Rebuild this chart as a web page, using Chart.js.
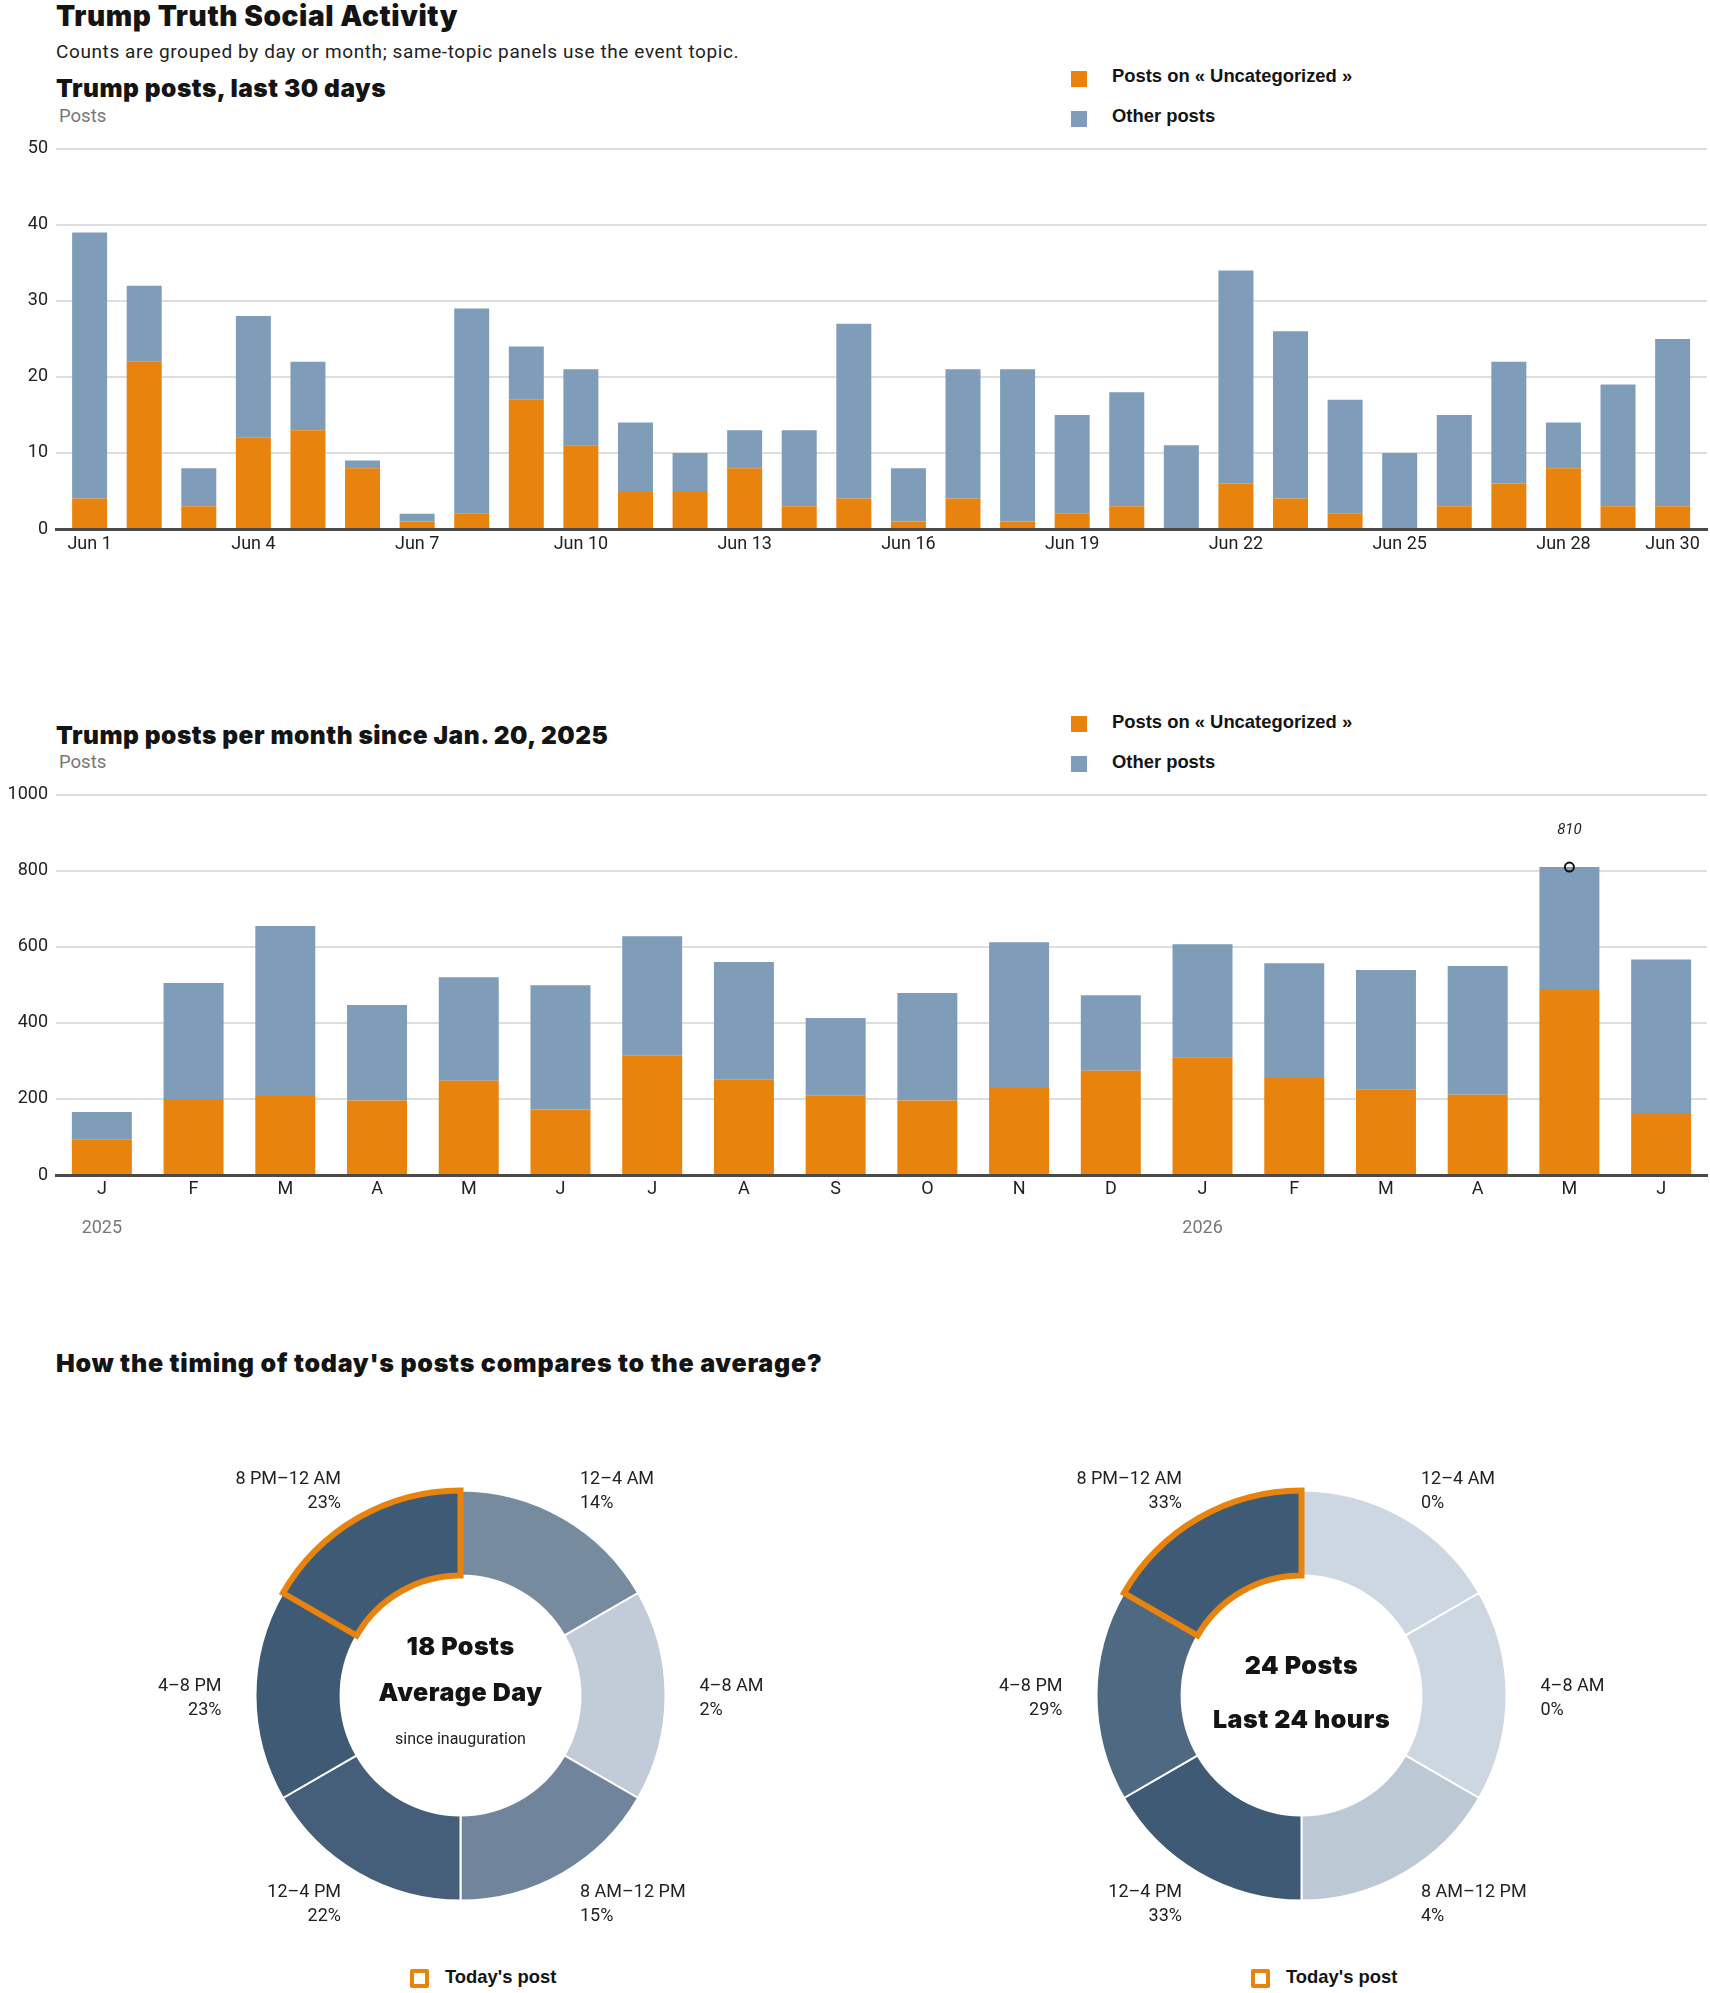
<!DOCTYPE html>
<html><head><meta charset="utf-8">
<script src="https://cdn.jsdelivr.net/npm/chart.js@4.4.1/dist/chart.umd.min.js"></script>
<style>
html,body{margin:0;padding:0;background:#fff;}
body{width:1710px;height:1993px;overflow:hidden;position:relative;}
.abs{position:absolute;white-space:nowrap;line-height:1;}
.heavy{font-family:Inter,"DejaVu Sans",sans-serif;font-weight:900;color:#141414;}
.reg{font-family:Roboto,"Liberation Sans",sans-serif;color:#222;}
.leg{font-family:"Liberation Sans",Arial,sans-serif;font-weight:bold;font-size:18.4px;color:#141414;}
.sw{position:absolute;width:16px;height:16px;}
.today{position:absolute;width:19px;height:19px;box-sizing:border-box;border:4px solid #E8830E;border-radius:2px;}
canvas{position:absolute;}
.ctr{position:absolute;width:400px;text-align:center;white-space:nowrap;line-height:1;}
</style></head><body>

<div class="abs heavy" style="left:56px;top:2.3px;font-size:28px;letter-spacing:0.6px;">Trump Truth Social Activity</div>
<div class="abs reg" style="left:56px;top:42px;font-size:19px;letter-spacing:0.6px;">Counts are grouped by day or month; same-topic panels use the event topic.</div>

<div class="abs heavy" style="left:56px;top:75.6px;font-size:24.5px;letter-spacing:0.5px;">Trump posts, last 30 days</div>
<div class="abs reg" style="left:59px;top:107.4px;font-size:18.5px;color:#777;">Posts</div>
<div class="sw" style="left:1071px;top:71px;background:#E8830E;"></div>
<div class="abs leg" style="left:1112px;top:67.4px;">Posts on « Uncategorized »</div>
<div class="sw" style="left:1071px;top:111px;background:#7F9DB9;"></div>
<div class="abs leg" style="left:1112px;top:107.4px;">Other posts</div>
<canvas id="c1" width="1710" height="440" style="left:0;top:130px;"></canvas>

<div class="abs heavy" style="left:56px;top:722.7px;font-size:24.5px;letter-spacing:0.5px;">Trump posts per month since Jan. 20, 2025</div>
<div class="abs reg" style="left:59px;top:753.4px;font-size:18.5px;color:#777;">Posts</div>
<div class="sw" style="left:1071px;top:716px;background:#E8830E;"></div>
<div class="abs leg" style="left:1112px;top:712.9px;">Posts on « Uncategorized »</div>
<div class="sw" style="left:1071px;top:756px;background:#7F9DB9;"></div>
<div class="abs leg" style="left:1112px;top:752.9px;">Other posts</div>
<canvas id="c2" width="1710" height="474" style="left:0;top:776px;"></canvas>

<div class="abs heavy" style="left:56px;top:1351.4px;font-size:25px;letter-spacing:0.75px;">How the timing of today's posts compares to the average?</div>

<canvas id="d1" width="801" height="501" style="left:60px;top:1445px;"></canvas>
<canvas id="d2" width="801" height="501" style="left:901px;top:1445px;"></canvas>

<div class="ctr heavy" id="avgCount" style="left:260.5px;top:1634.4px;font-size:25px;letter-spacing:0.5px;"></div>
<div class="ctr heavy" style="left:260.5px;top:1680.1px;font-size:25px;letter-spacing:0.5px;">Average Day</div>
<div class="ctr reg" style="left:260.5px;top:1730.8px;font-size:16px;">since inauguration</div>
<div class="ctr heavy" id="lastCount" style="left:1101.5px;top:1652.7px;font-size:25px;letter-spacing:0.5px;"></div>
<div class="ctr heavy" style="left:1101.5px;top:1707.1px;font-size:25px;letter-spacing:0.5px;">Last 24 hours</div>

<div class="today" style="left:410px;top:1969px;"></div>
<div class="abs leg" style="left:445px;top:1967.7px;">Today's post</div>
<div class="today" style="left:1251px;top:1969px;"></div>
<div class="abs leg" style="left:1286px;top:1967.7px;">Today's post</div>

<script>
// ---------- DATA ----------
const days = ['Jun 1','Jun 2','Jun 3','Jun 4','Jun 5','Jun 6','Jun 7','Jun 8','Jun 9','Jun 10',
  'Jun 11','Jun 12','Jun 13','Jun 14','Jun 15','Jun 16','Jun 17','Jun 18','Jun 19','Jun 20',
  'Jun 21','Jun 22','Jun 23','Jun 24','Jun 25','Jun 26','Jun 27','Jun 28','Jun 29','Jun 30'];
const dayTickLabels = ['Jun 1','Jun 4','Jun 7','Jun 10','Jun 13','Jun 16','Jun 19','Jun 22','Jun 25','Jun 28','Jun 30'];
const dailyUncategorized = [4,22,3,12,13,8,1,2,17,11,5,5,8,3,4,1,4,1,2,3,0,6,4,2,0,3,6,8,3,3];
const dailyOther         = [35,10,5,16,9,1,1,27,7,10,9,5,5,10,23,7,17,20,13,15,11,28,22,15,10,12,16,6,16,22];
const dailyYTicks = [0,10,20,30,40,50];

const months = ['2025-01','2025-02','2025-03','2025-04','2025-05','2025-06','2025-07','2025-08','2025-09',
  '2025-10','2025-11','2025-12','2026-01','2026-02','2026-03','2026-04','2026-05','2026-06'];
const monthTickLabels = ['J','F','M','A','M','J','J','A','S','O','N','D','J','F','M','A','M','J'];
const yearTickMonths = ['2025-01','2026-01'];
const yearTickLabels = ['2025','2026'];
const monthlyUncategorized = [93,200,208,196,248,172,315,252,210,196,229,274,310,255,224,211,489,163];
const monthlyOther         = [73,305,447,251,272,327,313,308,203,283,383,199,297,302,315,339,321,404];
const monthlyYTicks = [0,200,400,600,800,1000];

const timeSlots = ['12–4 AM','4–8 AM','8 AM–12 PM','12–4 PM','4–8 PM','8 PM–12 AM'];
const slotHours = [4,4,4,4,4,4];
const avgSharePct = [14,2,15,22,23,23];
const last24SharePct = [0,0,4,33,29,33];
const todaySlot = '8 PM–12 AM';
const avgPostsPerDay = 18;
const last24Posts = 24;

// ---------- STYLE ----------
const ORANGE = '#E8830E', BLUE = '#7F9DB9';
const REG = 'Roboto, "Liberation Sans", sans-serif';
const LIGHT = [205,215,225], DARK = [63,90,117];

document.getElementById('avgCount').textContent = avgPostsPerDay + ' Posts';
document.getElementById('lastCount').textContent = last24Posts + ' Posts';

const common = {
  responsive:false, animation:false, events:[],
  plugins:{legend:{display:false}, tooltip:{enabled:false}}
};

function yAxis(ticksArr){
  return {
    stacked:true, min:ticksArr[0], max:ticksArr[ticksArr.length-1],
    afterBuildTicks:(s)=>{ s.ticks = ticksArr.map(v=>({value:v})); },
    afterFit:(s)=>{ s.width = 56; },
    ticks:{padding:8, color:'#222', font:{family:REG, size:18}, callback:(v)=>String(v)},
    grid:{color:'#dedede', lineWidth:2, drawTicks:false},
    border:{display:false}
  };
}

// ---------- CHART 1 ----------
new Chart(document.getElementById('c1'), {
  type:'bar',
  data:{datasets:[
    {label:'Posts on « Uncategorized »', data:dailyUncategorized.map((v,i)=>({x:i,y:v})), backgroundColor:ORANGE},
    {label:'Other posts', data:dailyOther.map((v,i)=>({x:i,y:v})), backgroundColor:BLUE}
  ]},
  options:Object.assign({}, common, {
    layout:{padding:{top:17,right:3,left:0,bottom:0}},
    datasets:{bar:{barPercentage:1, categoryPercentage:0.641, borderWidth:0}},
    scales:{
      x:{type:'linear', stacked:true, offset:false, min:-0.616, max:29.63,
        afterBuildTicks:(s)=>{ s.ticks = dayTickLabels.map(l=>({value:days.indexOf(l)})); },
        afterFit:(s)=>{ s.height = 41; },
        grid:{display:false, drawTicks:false},
        border:{display:true, color:'#4a4a4a', width:3},
        ticks:{autoSkip:false, maxRotation:0, padding:5, color:'#222', font:{family:REG, size:18},
          callback:(v)=>days[v]}
      },
      y:yAxis(dailyYTicks)
    }
  })
});

// ---------- CHART 2 ----------
const yearPlugin = {
  id:'years',
  afterDraw(chart){
    const ctx = chart.ctx, xs = chart.scales.x;
    ctx.save();
    ctx.font = '18px ' + REG; ctx.fillStyle = '#777';
    ctx.textAlign = 'center'; ctx.textBaseline = 'middle';
    yearTickMonths.forEach((m,k)=>{
      ctx.fillText(yearTickLabels[k], xs.getPixelForValue(months.indexOf(m)), xs.top + 53);
    });
    ctx.restore();
  }
};
const peakPlugin = {
  id:'peak',
  afterDatasetsDraw(chart){
    const totals = monthlyUncategorized.map((v,i)=>v + monthlyOther[i]);
    let idx = 0; totals.forEach((t,i)=>{ if (t > totals[idx]) idx = i; });
    const x = chart.scales.x.getPixelForValue(idx), y = chart.scales.y.getPixelForValue(totals[idx]);
    const ctx = chart.ctx;
    ctx.save();
    ctx.beginPath(); ctx.arc(x, y, 4.5, 0, Math.PI*2);
    ctx.lineWidth = 2; ctx.strokeStyle = '#111'; ctx.stroke();
    ctx.font = 'italic 15px ' + REG; ctx.fillStyle = '#222';
    ctx.textAlign = 'center'; ctx.textBaseline = 'middle';
    ctx.fillText(String(totals[idx]), x, y - 37);
    ctx.restore();
  }
};
new Chart(document.getElementById('c2'), {
  type:'bar',
  data:{labels:months, datasets:[
    {label:'Posts on « Uncategorized »', data:monthlyUncategorized, backgroundColor:ORANGE},
    {label:'Other posts', data:monthlyOther, backgroundColor:BLUE}
  ]},
  options:Object.assign({}, common, {
    layout:{padding:{top:17,right:3,left:0,bottom:0}},
    datasets:{bar:{barPercentage:1, categoryPercentage:0.654, borderWidth:0}},
    scales:{
      x:{stacked:true,
        afterFit:(s)=>{ s.height = 75; },
        grid:{display:false, drawTicks:false},
        border:{display:true, color:'#4a4a4a', width:3},
        ticks:{autoSkip:false, maxRotation:0, padding:4, color:'#222', font:{family:REG, size:18},
          callback:(v,i)=>monthTickLabels[i]}
      },
      y:yAxis(monthlyYTicks)
    }
  }),
  plugins:[yearPlugin, peakPlugin]
});

// ---------- DONUTS ----------
function shade(v, max){
  const t = max ? v / max : 0;
  const c = LIGHT.map((l,k)=>Math.round(l + (DARK[k]-l)*t));
  return 'rgb(' + c.join(',') + ')';
}
const slotLabelPlugin = {
  id:'slotLabels',
  afterDraw(chart){
    const ctx = chart.ctx;
    const pct = chart.data.datasets[0].pct;
    ctx.save();
    ctx.font = '18px ' + REG; ctx.fillStyle = '#222'; ctx.textBaseline = 'middle';
    chart.getDatasetMeta(0).data.forEach((arc,i)=>{
      const mid = (arc.startAngle + arc.endAngle)/2;
      const cx = Math.cos(mid), sy = Math.sin(mid);
      const lx = arc.x + cx*239, ly = arc.y + sy*238.4 + 2.6;
      ctx.textAlign = cx > 0.01 ? 'left' : (cx < -0.01 ? 'right' : 'center');
      ctx.fillText(chart.data.labels[i], lx, ly - 12);
      ctx.fillText(pct[i] + '%', lx, ly + 12);
    });
    ctx.restore();
  }
};
function donut(id, pct){
  const max = Math.max(...pct);
  const hi = timeSlots.indexOf(todaySlot);
  new Chart(document.getElementById(id), {
    type:'doughnut',
    data:{labels:timeSlots, datasets:[{
      data:slotHours, pct:pct,
      backgroundColor:pct.map(v=>shade(v,max)),
      borderColor:timeSlots.map((s,i)=> i===hi ? ORANGE : '#ffffff'),
      borderWidth:timeSlots.map((s,i)=> i===hi ? 6 : 2),
      borderJoinStyle:'miter'
    }]},
    options:Object.assign({}, common, {radius:205, cutout:'58.5%', layout:{padding:0}}),
    plugins:[slotLabelPlugin]
  });
}
donut('d1', avgSharePct);
donut('d2', last24SharePct);
</script>
</body></html>
